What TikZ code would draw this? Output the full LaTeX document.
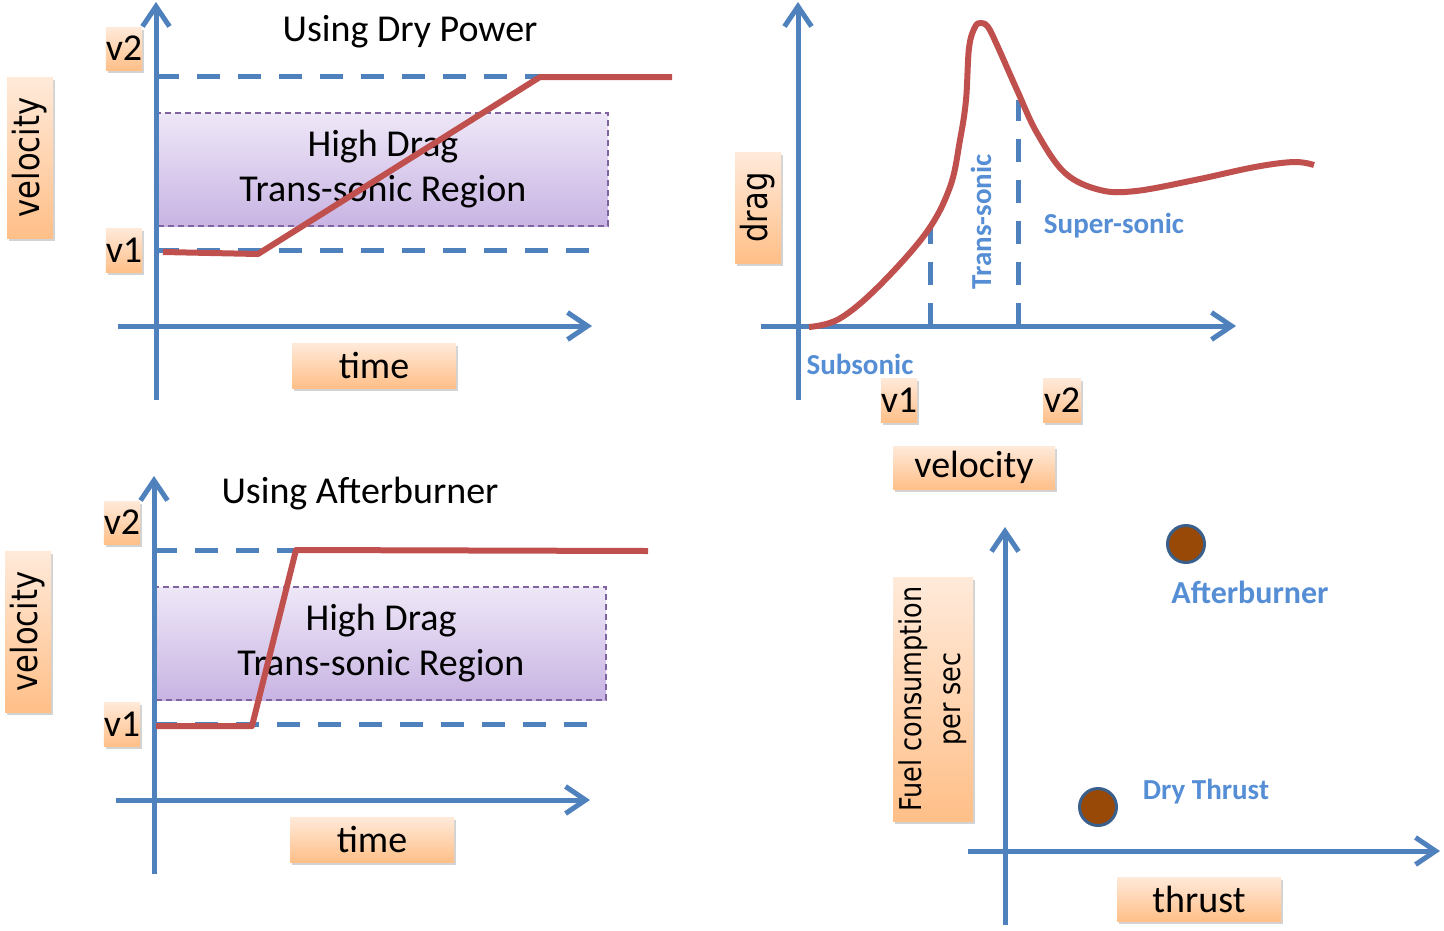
\documentclass[tikz,border=0pt]{standalone}
\usepackage{fontspec}
\setmainfont{Carlito}
\newfontfamily\verd{DejaVu Sans}
\usetikzlibrary{arrows.meta,shadows}
\definecolor{axblue}{HTML}{4F81BD}
\definecolor{lblue}{HTML}{558ED5}
\definecolor{curvered}{HTML}{C0504D}
\definecolor{orlight}{HTML}{FFEADA}
\definecolor{ordark}{HTML}{FFBF88}
\definecolor{pulight}{HTML}{EEE7F7}
\definecolor{pudark}{HTML}{C8B4E3}
\definecolor{puline}{HTML}{8064A2}
\definecolor{ballbrown}{HTML}{984807}
\definecolor{ballrim}{HTML}{3A5F8B}
\newcommand\narrow[1]{\scalebox{0.85}[1]{#1}}

\begin{document}
\begin{tikzpicture}[x=1pt, y=-1pt,
  axis/.style={axblue, line width=5pt, -{Straight Barb[length=20pt,width=27pt]}},
  guide/.style={axblue, line width=5pt, dash pattern=on 23pt off 18pt},
  speed/.style={curvered, line width=6pt, line join=round},
  tag/.style={top color=orlight, bottom color=ordark, inner sep=0pt,
    drop shadow={shadow xshift=2pt, shadow yshift=-3pt, opacity=0.35},
    font=\fontsize{38}{42}\selectfont},
  ytag/.style={tag, rotate=90, font=\verd\fontsize{36}{40}\selectfont},
  zone/.style={top color=pulight, bottom color=pudark, draw=puline, line width=1.5pt,
    dash pattern=on 6pt off 4pt, align=center, inner sep=0pt,
    font=\fontsize{38}{45}\selectfont},
  note/.style={lblue, font=\bfseries\fontsize{29}{34}\selectfont},
  ball/.style={circle, fill=ballbrown, draw=ballrim, line width=3pt, minimum size=37, inner sep=0pt}]
\useasboundingbox (0,0) rectangle (1444,930);

\foreach \i/\dx/\dy/\tx/\ty/\title in {1/0/0/410/32/Using Dry Power, 2/-2/474/362/20/Using Afterburner} {
  \begin{scope}[shift={(\dx,\dy)}]
    \node[zone, minimum width=450, minimum height=113] (zone\i) at (383,169.5) {High Drag\\Trans-sonic Region};
    \foreach \y in {76,250}
      \draw[guide] (156,\y) -- (600,\y);
    \draw[axis] (156,400) -- (156,2);
    \draw[axis] (118,326) -- (592,326);
    \node[tag, minimum width=36, minimum height=43] (vtwo\i) at (124,48.5) {v2};
    \node[tag, minimum width=36, minimum height=44] (vone\i) at (124,250) {v1};
    \node[tag, minimum width=164, minimum height=45] (time\i) at (374,365.5) {time};
    \node[ytag, minimum width=161, minimum height=46] (vel\i) at (30,157.5) {\narrow{velocity}};
    \node[font=\fontsize{38}{42}\selectfont] (title\i) at (\tx,\ty) {\title};
  \end{scope}
}
\draw[speed] (163,252) -- (258,254) -- (540,77) -- (672,77);
\draw[speed] (156,726) -- (252,726) -- (296,550) -- (648,551);

\draw[axis] (798,400) -- (798,2);
\draw[axis] (761,326) -- (1236,326);
\draw[guide] (930,326) -- (930,228);
\draw[guide] (1018,326) -- (1018,100);
\draw[speed] plot[smooth, tension=0.6] coordinates {(809,327) (839,319) (878,287) (926,233) (950,187)
  (960,140) (966,100) (969,48) (975,27) (981,23) (988,27) (997,45) (1017,90) (1037,133) (1065,173)
  (1100,190) (1136,191) (1195,180) (1255,167) (1294,162) (1314,165)};
\node[ytag, minimum width=111, minimum height=46] (drag) at (758,207.5) {\narrow{drag}};
\node[note, rotate=90] (trans) at (981,222) {Trans-sonic};
\node[note] (super) at (1114,226) {Super-sonic};
\node[note] (sub) at (860,364) {Subsonic};
\node[tag, minimum width=36, minimum height=44] (vone3) at (899,400) {v1};
\node[tag, minimum width=38, minimum height=44] (vtwo3) at (1062,400) {v2};
\node[tag, minimum width=162, minimum height=43] (vel3) at (974,467.5) {velocity};

\draw[axis] (1005,925) -- (1005,527);
\draw[axis] (968,851) -- (1440,851);
\node[ytag, minimum width=244, minimum height=80, align=center, font=\verd\fontsize{30}{39}\selectfont] (fuel) at (933,699)
  {\narrow{Fuel consumption}\\\narrow{per sec}};
\node[ball] (aburn) at (1186,544) {};
\node[ball] (dry) at (1098,807) {};
\node[note, font=\bfseries\fontsize{32}{36}\selectfont] (aburnlbl) at (1250,592) {Afterburner};
\node[note] (drylbl) at (1206,792) {Dry Thrust};
\node[tag, minimum width=164, minimum height=44] (thrust) at (1199,899) {thrust};
\end{tikzpicture}
\end{document}
